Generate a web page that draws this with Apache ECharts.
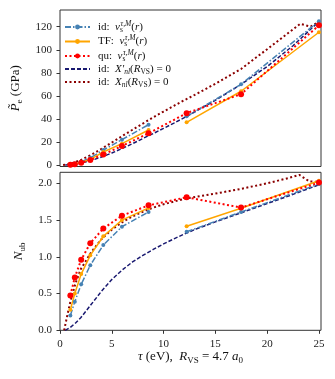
<!DOCTYPE html>
<html lang="en">
<head>
<meta charset="UTF-8">
<title>P_e and N_ub vs tau</title>
<script src="https://cdn.jsdelivr.net/npm/echarts/dist/echarts.min.js"></script>
<style>
  html, body { margin: 0; padding: 0; background: #fff; }
  #main { width: 335px; height: 379px; }
</style>
</head>
<body>
<div id="main"></div>
<script>
// temperatures of the computed points (eV)
const tau = [1.0, 1.43, 2.045, 2.924, 4.181, 5.979, 8.55, 12.226, 17.482, 25.0];
const gapAfter = 6; // id and TF lines are broken between 8.55 and 12.2

// pressure (GPa)
const P_id = [0.4, 1.2, 2.8, 6.2, 13.0, 22.0, 35.0, 42.2, 70.0, 124.8];
const P_TF = [0.25, 0.8, 2.1, 4.9, 11.3, 18.5, 30.4, 37.0, 64.0, 115.2];
const P_qu = [0.25, 0.7, 1.9, 4.3, 9.1, 16.5, 27.5, 45.0, 61.5, 121.2];

// unbound electrons
const N_id = [0.20, 0.39, 0.625, 0.885, 1.16, 1.41, 1.61, 1.34, 1.61, 1.99];
const N_TF = [0.28, 0.50, 0.765, 1.02, 1.28, 1.50, 1.665, 1.415, 1.66, 2.035];
const N_qu = [0.475, 0.72, 0.96, 1.185, 1.385, 1.56, 1.70, 1.81, 1.67, 2.01];

// id: X'_nl(R_VS) = 0 curve
const tauXp = [0.5, 1, 1.5, 2, 3, 4, 5, 6, 7, 8, 9, 10, 11, 12, 13, 15, 17.5, 20, 22.5, 25];
const P_Xp = [0, 0.35, 0.9, 1.7, 3.9, 6.9, 10.4, 14.3, 18.5, 23.0, 27.3, 31.8, 36.4, 41.1, 46.0, 56.2, 70.0, 85.5, 103.5, 124.5];
const N_Xp = [0, 0.04, 0.10, 0.17, 0.35, 0.53, 0.69, 0.82, 0.93, 1.02, 1.10, 1.175, 1.245, 1.31, 1.37, 1.475, 1.60, 1.725, 1.85, 1.98];

// id: X_nl(R_VS) = 0 curve
const tauX_P = [0.3, 1, 2, 3, 4, 5, 6, 7, 8, 9, 10, 11, 12, 13, 15, 17.5, 20, 22, 23.2, 24.2, 25];
const P_X = [0, 1.0, 4.3, 8.8, 14.0, 19.5, 25.1, 30.6, 36.0, 41.3, 46.4, 51.4, 56.2, 60.8, 70.5, 83.5, 100.5, 114.3, 122.5, 120.0, 124.5];
const tauX_N = [0.4, 0.7, 1, 1.5, 2, 3, 4, 5, 6, 7, 8.5, 10, 12.2, 15, 17.5, 20, 22, 23.1, 24.1, 25];
const N_X = [0, 0.2, 0.39, 0.64, 0.83, 1.06, 1.24, 1.37, 1.47, 1.55, 1.645, 1.715, 1.795, 1.86, 1.925, 2.0, 2.07, 2.115, 2.025, 2.02];

// tick labels
const xTicks = [0, 5, 10, 15, 20, 25];
const pTicks = [0, 20, 40, 60, 80, 100, 120];
const nTicks = [0, 0.5, 1.0, 1.5, 2.0];

const names = ['idvs', 'TFvs', 'quvs', 'idXp', 'idX'];
const legendText = {
    idvs: '{n|id:  }{i|v}{sb0|s}{sp|τ,M}{n|(}{i|r}{n|)}',
    TFvs: '{n|TF:  }{i|v}{sb0|s}{sp|τ,M}{n|(}{i|r}{n|)}',
    quvs: '{n|qu:  }{i|v}{sb0|s}{sp|τ,M}{n|(}{i|r}{n|)}',
    idXp: '{n|id:  }{i|X′}{sbi|nl}{n|(}{i|R}{sb|VS}{n|) = 0}',
    idX: '{n|id:  }{i|X}{sbi|nl}{n|(}{i|R}{sb|VS}{n|) = 0}'
};

function pairs(xs, ys, gap) {
    let out = [];
    xs.forEach(function (x, i) {
        out.push([x, ys[i]]);
        if (gap !== undefined && i === gap) out.push(['-', '-']);
    });
    return out;
}

const serif = 'Liberation Serif';
const rich = {
    n: { fontFamily: serif, fontSize: 11, lineHeight: 14, color: '#111' },
    i: { fontFamily: serif, fontStyle: 'italic', fontSize: 11, lineHeight: 14, color: '#111' },
    sb: { fontFamily: serif, fontSize: 7.5, lineHeight: 8, verticalAlign: 'bottom', color: '#111' },
    sb0: { fontFamily: serif, fontSize: 7.5, lineHeight: 8, verticalAlign: 'bottom', width: 0.5, color: '#111' },
    sbi: { fontFamily: serif, fontStyle: 'italic', fontSize: 7.5, lineHeight: 8, verticalAlign: 'bottom', color: '#111' },
    sp: { fontFamily: serif, fontStyle: 'italic', fontSize: 7.5, lineHeight: 8, verticalAlign: 'top', color: '#111' }
};
const richAxis = {
    n: { fontFamily: serif, fontSize: 13, lineHeight: 17, color: '#111' },
    i: { fontFamily: serif, fontStyle: 'italic', fontSize: 13, lineHeight: 17, color: '#111' },
    sb: { fontFamily: serif, fontSize: 9, lineHeight: 9, verticalAlign: 'bottom', color: '#111' }
};

const styles = {
    idvs: { color: '#4682b4', width: 1.5, type: [6, 2, 1.5, 2], symbol: 'circle', size: 4 },
    TFvs: { color: '#ffa500', width: 1.5, type: 'solid', symbol: 'circle', size: 4 },
    quvs: { color: '#ff0000', width: 2, type: [2, 2.5], symbol: 'circle', size: 6 },
    idXp: { color: '#191970', width: 1.5, type: [4, 2], symbol: 'none', size: 0 },
    idX: { color: '#8b0000', width: 2, type: [2, 2.5], symbol: 'none', size: 0 }
};

function mk(name, data, gi) {
    let s = styles[name];
    return {
        name: name,
        type: 'line',
        xAxisIndex: gi,
        yAxisIndex: gi,
        data: data,
        smooth: false,
        symbol: s.symbol,
        symbolSize: s.size,
        showSymbol: s.symbol !== 'none',
        itemStyle: { color: s.color },
        lineStyle: { color: s.color, width: s.width, type: s.type },
        emphasis: { disabled: true },
        animation: false
    };
}

const tickLabel = { fontFamily: serif, fontSize: 11, color: '#222', margin: 8 };

let myChart = echarts.init(document.getElementById('main'));
let option = {
    backgroundColor: '#fff',
    animation: false,
    grid: [
        { left: 60, right: 14, top: 10, height: 156.5, show: true, borderColor: '#333', borderWidth: 1 },
        { left: 60, right: 14, top: 172.3, height: 158, show: true, borderColor: '#333', borderWidth: 1 }
    ],
    legend: {
        data: names.map(function (n) {
            return styles[n].symbol === 'none' ? { name: n, itemStyle: { opacity: 0 } } : { name: n };
        }),
        orient: 'vertical',
        left: 64,
        top: 20,
        padding: 0,
        itemWidth: 25,
        itemHeight: 6,
        itemGap: 0.5,
        formatter: function (name) { return legendText[name]; },
        textStyle: { rich: rich, padding: [0, 0, 0, 3] }
    },
    xAxis: [
        {
            gridIndex: 0, type: 'value', min: 0, max: 25.2,
            axisLine: { show: false }, axisTick: { show: false },
            axisLabel: { show: false }, splitLine: { show: false }
        },
        {
            gridIndex: 1, type: 'value', min: 0, max: 25.2,
            axisLine: { show: false },
            axisTick: { show: true, length: 3.5, lineStyle: { color: '#333' }, customValues: xTicks },
            axisLabel: Object.assign({ customValues: xTicks }, tickLabel),
            splitLine: { show: false },
            name: '{i|τ}{n| (eV),  }{i|R}{sb|VS}{n| = 4.7 }{i|a}{sb|0}',
            nameLocation: 'middle',
            nameGap: 17,
            nameTextStyle: { rich: richAxis }
        }
    ],
    yAxis: [
        {
            gridIndex: 0, type: 'value', min: -1.3, max: 134.5,
            axisLine: { show: false },
            axisTick: { show: true, length: 3.5, lineStyle: { color: '#333' }, customValues: pTicks },
            axisLabel: Object.assign({ customValues: pTicks }, tickLabel),
            splitLine: { show: false },
            name: '{i|P\u0303}{sb|e}{n| (GPa)}',
            nameLocation: 'middle',
            nameGap: 36,
            nameTextStyle: { rich: richAxis }
        },
        {
            gridIndex: 1, type: 'value', min: 0, max: 2.15,
            axisLine: { show: false },
            axisTick: { show: true, length: 3.5, lineStyle: { color: '#333' }, customValues: nTicks },
            axisLabel: Object.assign({
                customValues: nTicks,
                formatter: function (v) { return v.toFixed(1); }
            }, tickLabel),
            splitLine: { show: false },
            name: '{i|N}{sb|ub}',
            nameLocation: 'middle',
            nameGap: 32,
            nameTextStyle: { rich: richAxis }
        }
    ],
    series: [
        mk('idXp', pairs(tauXp, P_Xp), 0),
        mk('idX', pairs(tauX_P, P_X), 0),
        mk('idvs', pairs(tau, P_id, gapAfter), 0),
        mk('TFvs', pairs(tau, P_TF, gapAfter), 0),
        mk('quvs', pairs(tau, P_qu), 0),
        mk('idXp', pairs(tauXp, N_Xp), 1),
        mk('idX', pairs(tauX_N, N_X), 1),
        mk('idvs', pairs(tau, N_id, gapAfter), 1),
        mk('TFvs', pairs(tau, N_TF, gapAfter), 1),
        mk('quvs', pairs(tau, N_qu), 1)
    ]
};
myChart.setOption(option, true);
</script>
</body>
</html>
